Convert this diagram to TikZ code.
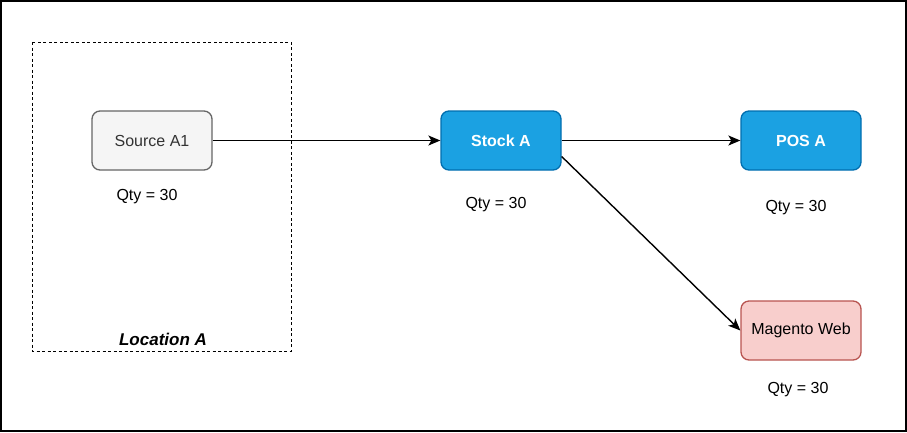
\documentclass[tikz,border=0pt]{standalone}
\usepackage{fontspec}
\setmainfont{Liberation Sans}
\usetikzlibrary{arrows.meta}
\definecolor{srcfill}{HTML}{F5F5F5}
\definecolor{srcline}{HTML}{666666}
\definecolor{bluefill}{HTML}{1BA1E2}
\definecolor{blueline}{HTML}{006EAF}
\definecolor{redfill}{HTML}{F8CECC}
\definecolor{redline}{HTML}{B85450}
\tikzset{
    box/.style={rounded corners=8pt,minimum width=120pt,minimum height=59pt,inner sep=0pt,line width=1.3pt,font=\fontsize{16}{19}\selectfont},
    source/.style={box,draw=srcline,fill=srcfill,text=black!80},
    stock/.style={box,draw=blueline,fill=bluefill,text=white,font=\fontsize{16}{19}\selectfont\bfseries},
    sales/.style={box,draw=redline,fill=redfill,text=black},
    qty/.style={font=\fontsize{16}{19}\selectfont},
    link/.style={-{Stealth[length=12pt,width=10pt,inset=3pt]},line width=1.4pt}
}

\begin{document}
\begin{tikzpicture}[x=1pt,y=1pt]
    \useasboundingbox (0,0) rectangle (907,-432);
    \draw[line width=1.6pt] (1,-1) rectangle (906,-431);
    \draw[dash pattern=on 3pt off 2.5pt,line width=0.9pt] (32,-42) rectangle (291,-351);
    \node[font=\fontsize{17}{20}\selectfont\bfseries\itshape] (loc) at (163,-339) {Location A};

    \node[source] (src) at (152,-140.5) {Source A1};
    \node[stock] (stock) at (501,-140.5) {Stock A};
    \node[stock] (pos) at (801,-140.5) {POS A};
    \node[sales] (web) at (801,-330.5) {Magento Web};

    \node[qty] (qsrc) at (147,-197) {Qty = 30};
    \node[qty] (qstock) at (496,-205) {Qty = 30};
    \node[qty] (qpos) at (796,-208) {Qty = 30};
    \node[qty] (qweb) at (798,-390) {Qty = 30};

    \draw[link] (src) -- (stock);
    \draw[link] (stock) -- (pos);
    \draw[link] ([yshift=-16pt]stock.east) -- (web.west);
\end{tikzpicture}
\end{document}
